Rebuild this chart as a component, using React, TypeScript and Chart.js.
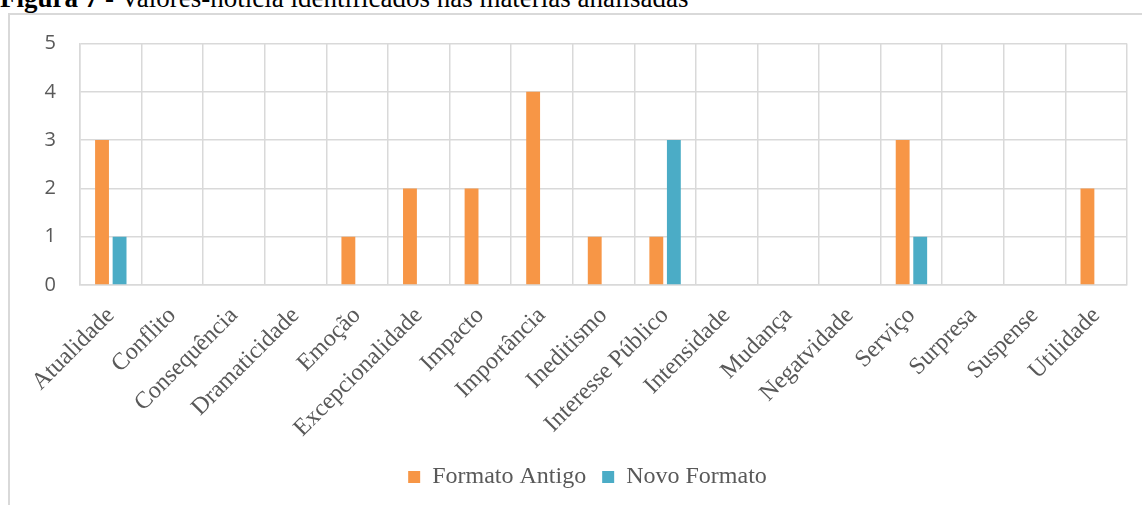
import React, { useEffect, useRef } from "react";
import { Chart, registerables } from "chart.js";

Chart.register(...registerables);

// Valores-notícia e contagens por formato
const categories = [
  "Atualidade",
  "Conflito",
  "Consequência",
  "Dramaticidade",
  "Emoção",
  "Excepcionalidade",
  "Impacto",
  "Importância",
  "Ineditismo",
  "Interesse Público",
  "Intensidade",
  "Mudança",
  "Negatvidade",
  "Serviço",
  "Surpresa",
  "Suspense",
  "Utilidade",
];
const formatoAntigo = [3, 0, 0, 0, 1, 2, 2, 4, 1, 1, 0, 0, 0, 3, 0, 0, 2];
const novoFormato = [1, 0, 0, 0, 0, 0, 0, 0, 0, 3, 0, 0, 0, 1, 0, 0, 0];
const yMin = 0;
const yMax = 5;
const yStep = 1;

const GRID = "#d9d9d9";
const TEXT = "#595959";
const SERIF = "'Liberation Serif', 'Times New Roman', serif";

// nudges the centred legend row to the right
const legendShift = {
  id: "legendShift",
  afterLayout(chart: any) {
    const lg = chart.legend;
    if (lg) {
      lg.left += 24;
      lg.right += 24;
    }
  },
};

export default function App() {
  const ref = useRef<HTMLCanvasElement | null>(null);

  useEffect(() => {
    if (!ref.current) return;
    const chart = new Chart(ref.current, {
      type: "bar",
      data: {
        labels: categories,
        datasets: [
          {
            label: "Formato Antigo",
            data: formatoAntigo,
            backgroundColor: "#f79646",
            borderWidth: 0,
          },
          {
            label: "Novo Formato",
            data: novoFormato,
            backgroundColor: "#4bacc6",
            borderWidth: 0,
          },
        ],
      },
      options: {
        responsive: false,
        animation: false,
        events: [],
        datasets: {
          bar: { categoryPercentage: 0.57, barPercentage: 0.79 },
        },
        layout: { padding: { left: 0, right: 15, top: 43.5, bottom: 6 } },
        plugins: {
          tooltip: { enabled: false },
          title: { display: false },
          legend: {
            position: "bottom",
            labels: {
              boxWidth: 12,
              boxHeight: 12,
              padding: 16,
              color: TEXT,
              font: { family: SERIF, size: 24 },
            },
          },
        },
        scales: {
          x: {
            offset: true,
            grid: { color: GRID, lineWidth: 1.5, offset: true, drawTicks: false },
            border: { color: GRID, width: 1.5 },
            ticks: {
              autoSkip: false,
              maxRotation: 45,
              minRotation: 45,
              padding: 26,
              color: TEXT,
              font: { family: SERIF, size: 24, lineHeight: 0.1 },
            },
            afterFit(scale: any) {
              scale.height = 164;
            },
          },
          y: {
            min: yMin,
            max: yMax,
            grid: { color: GRID, lineWidth: 1.5, drawTicks: false },
            border: { color: GRID, width: 1.5 },
            ticks: {
              stepSize: yStep,
              padding: 24,
              color: TEXT,
              font: { family: "'Open Sans', sans-serif", size: 20 },
            },
            afterFit(scale: any) {
              scale.width = 80;
            },
          },
        },
      },
      plugins: [legendShift],
    });
    return () => chart.destroy();
  }, []);

  return (
    <div
      style={{
        position: "absolute",
        left: 0,
        top: 0,
        width: 1142,
        height: 505,
        overflow: "hidden",
        background: "#fff",
      }}
    >
      <div
        style={{
          position: "absolute",
          left: 0,
          top: -15.3,
          font: `27px ${SERIF}`,
          lineHeight: "27px",
          color: "#000",
          whiteSpace: "nowrap",
        }}
      >
        <b>Figura 7</b> - Valores-notícia identificados nas matérias analisadas
      </div>
      <div
        style={{
          position: "absolute",
          left: 8,
          top: 13,
          width: 1300,
          height: 700,
          borderLeft: `2px solid ${GRID}`,
          borderTop: `2px solid ${GRID}`,
        }}
      />
      <canvas
        ref={ref}
        width={1142}
        height={505}
        style={{ position: "absolute", left: 0, top: 0, width: 1142, height: 505 }}
      />
    </div>
  );
}
